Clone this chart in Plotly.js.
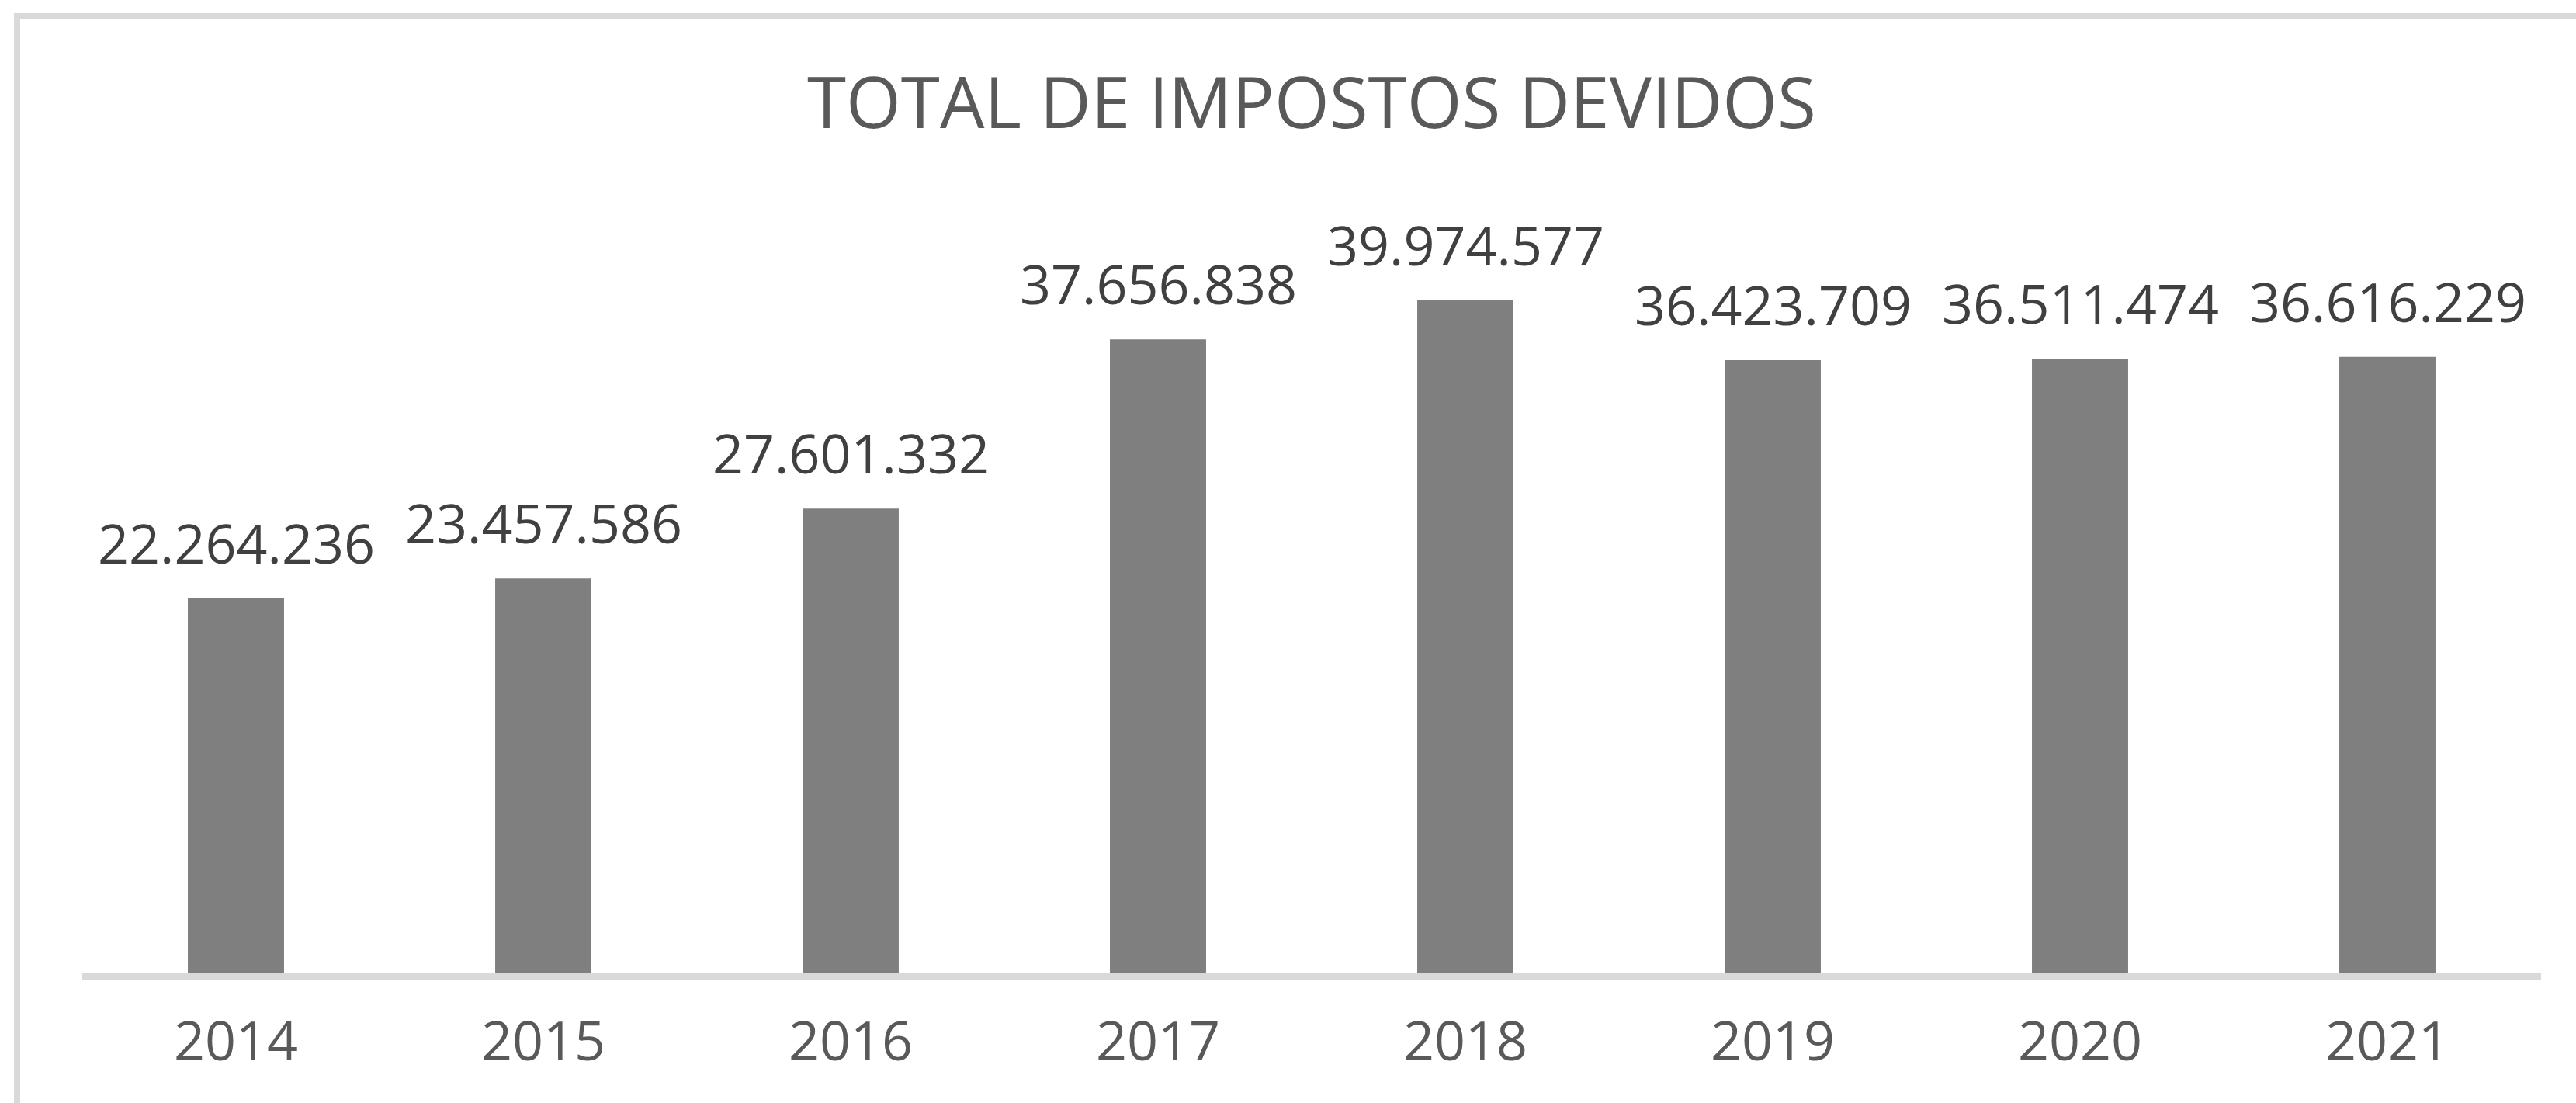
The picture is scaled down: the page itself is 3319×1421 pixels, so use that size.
<!DOCTYPE html>
<html>
<head>
<meta charset="utf-8">
<script src="https://cdn.plot.ly/plotly-3.0.1.min.js"></script>
<style>
  html, body { margin: 0; padding: 0; background: #ffffff; }
  #chart { width: 3319px; height: 1421px; }
</style>
</head>
<body>
<div id="chart"></div>
<script>
// ---- Data ----
const years = ["2014", "2015", "2016", "2017", "2018", "2019", "2020", "2021"];
const totals = [22264236, 23457586, 27601332, 37656838, 39974577, 36423709, 36511474, 36616229];
const chartTitle = "TOTAL DE IMPOSTOS DEVIDOS";

// ---- Layout geometry ----
const W = 3319, H = 1421;
const M = { l: 106, r: 45, t: 278, b: 167 };
const plotW = W - M.l - M.r;
const plotH = H - M.t - M.b;
const yMax = 45000000;

function fmt(v) {
  return String(Math.round(v)).replace(/\B(?=(\d{3})+(?!\d))/g, ".");
}

const trace = {
  type: "bar",
  x: years,
  y: totals,
  marker: { color: "#7f7f7f" },
  hoverinfo: "skip"
};

// on a category axis, annotation x is the category's serial index
const annotations = years.map((yr, i) => ({
  x: i,
  y: totals[i],
  xref: "x",
  yref: "y",
  text: fmt(totals[i]),
  showarrow: false,
  yanchor: "bottom",
  yshift: 22,
  font: { family: "Open Sans, sans-serif", size: 70, color: "#404040" }
}));

// light grey frame (top & left visible, the rest is off-canvas)
const px2x = px => (px - M.l) / plotW;
const py2y = py => (H - M.b - py) / plotH;

const layout = {
  width: W,
  height: H,
  margin: M,
  paper_bgcolor: "#ffffff",
  plot_bgcolor: "#ffffff",
  showlegend: false,
  bargap: 0.687,
  title: {
    text: chartTitle,
    xref: "paper",
    x: 0.5,
    xanchor: "center",
    y: 1 - 133 / H,
    yanchor: "middle",
    font: { family: "Open Sans, sans-serif", size: 91, color: "#595959" }
  },
  xaxis: {
    type: "category",
    range: [-0.5, years.length - 0.5],
    showline: true,
    linecolor: "#d9d9d9",
    linewidth: 8,
    ticks: "",
    showgrid: false,
    zeroline: false,
    ticklabelstandoff: 20,
    tickfont: { family: "Open Sans, sans-serif", size: 70, color: "#595959" }
  },
  yaxis: {
    range: [0, yMax],
    visible: false,
    showgrid: false,
    zeroline: false
  },
  annotations: annotations,
  shapes: [{
    type: "rect",
    xref: "paper",
    yref: "paper",
    x0: px2x(22),
    x1: px2x(3340),
    y0: py2y(1440),
    y1: py2y(21),
    line: { color: "#d9d9d9", width: 8 },
    fillcolor: "rgba(0,0,0,0)",
    layer: "below"
  }]
};

Plotly.newPlot("chart", [trace], layout, { displayModeBar: false, staticPlot: true });
</script>
</body>
</html>
